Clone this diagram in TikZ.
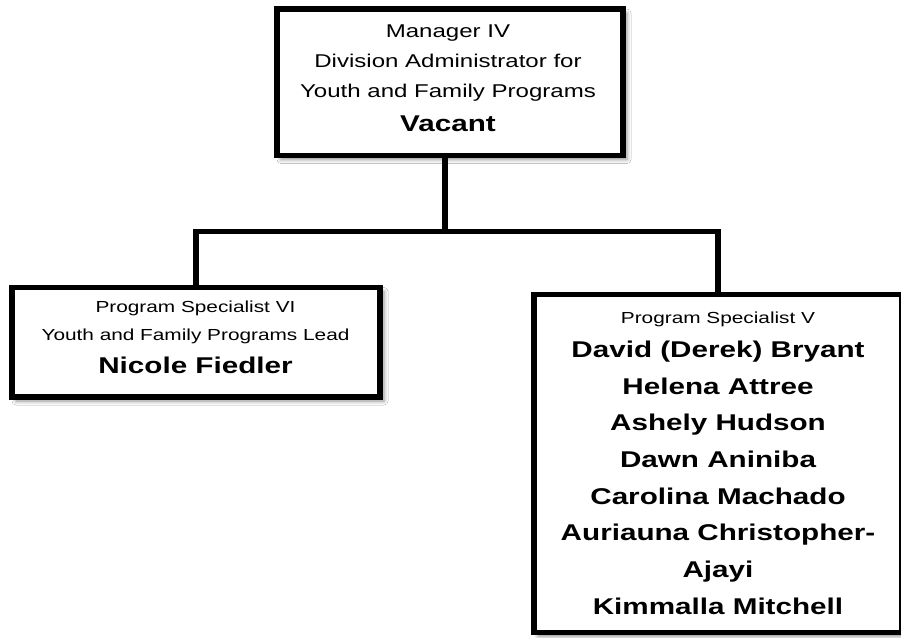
\documentclass[tikz,border=0pt]{standalone}
\usepackage{fontspec}
\setmainfont{Liberation Sans}[FakeStretch=1.3]
\usetikzlibrary{positioning, shadows.blur}
\newcommand{\personfont}{\fontsize{22.8}{30}\selectfont\bfseries}

\begin{document}
\begin{tikzpicture}[x=1pt, y=-1pt]
    % Define styles
    \tikzstyle{orgbox}=[draw, rectangle, line width=5.5pt, fill=white, inner sep=0pt, outer sep=0pt,
        blur shadow={shadow xshift=4pt, shadow yshift=-4pt, shadow blur radius=4pt, shadow opacity=45}]
    \tikzstyle{link}=[line width=5.5pt]
    \tikzstyle{boxtext}=[align=center, inner sep=0pt, anchor=north]

    \useasboundingbox[fill=white] (0,0) rectangle (901,637);

    % Top - manager box
    \node[orgbox, minimum width=346pt, minimum height=146.5pt] (topbox) at (450, 82.25) {};
    \node[boxtext, font=\fontsize{18.5}{30}\selectfont] (toptext) at (448, 24.8) {Manager IV\\ Division Administrator for\\ Youth and Family Programs\\[4pt] {\personfont Vacant}};

    % Left box - lead
    \node[orgbox, minimum width=368pt, minimum height=109.5pt] (leftbox) at (196, 342.25) {};
    \node[boxtext, font=\fontsize{16}{28}\selectfont] (lefttext) at (195.5, 300.5) {Program Specialist VI\\ Youth and Family Programs Lead\\[5pt] {\personfont Nicole Fiedler}};

    % Right box - specialists (runs past the right edge)
    \node[orgbox, minimum width=368pt, minimum height=338pt] (rightbox) at (718, 463.5) {};
    \node[boxtext, font=\fontsize{16}{36.7}\selectfont] (righttext) at (718, 311.5) {Program Specialist V\\[-2.7pt]
        {\personfont David (Derek) Bryant}\\ {\personfont Helena Attree}\\ {\personfont Ashely Hudson}\\
        {\personfont Dawn Aniniba}\\ {\personfont Carolina Machado}\\ {\personfont Auriauna Christopher-}\\
        {\personfont Ajayi}\\ {\personfont Kimmalla Mitchell}};

    % Connectors
    \coordinate (split) at (445, 231.5);
    \draw[link] (topbox.south -| split) -- (split);
    \draw[link] (leftbox.north) |- (split) -| (rightbox.north);
\end{tikzpicture}
\end{document}
